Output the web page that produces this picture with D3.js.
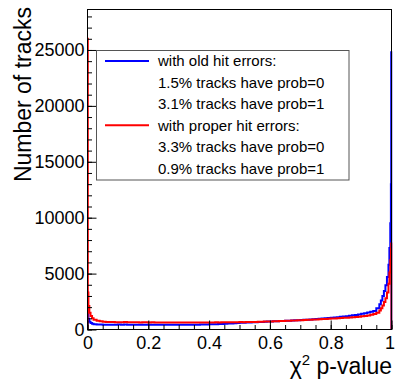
<!DOCTYPE html>
<html>
<head>
<meta charset="utf-8">
<script src="https://cdn.jsdelivr.net/npm/d3@7"></script>
<style>
  body { margin: 0; background: #fff; }
  svg { display: block; font-family: "Liberation Sans", Arial, Helvetica, sans-serif; }
</style>
</head>
<body>
<svg id="chart" width="395" height="381"></svg>
<script>
// bin edges: finer near p=0 and p=1, 0.01 in between
const lowEdges = [0, 0.001, 0.003, 0.006, 0.01, 0.015, 0.02, 0.03, 0.04, 0.05, 0.06, 0.07, 0.08, 0.09];
const midEdges = d3.range(10, 95).map(i => i / 100);
const highEdges = [0.95, 0.96, 0.965, 0.97, 0.975, 0.98, 0.985, 0.99, 0.993, 0.996, 0.998, 0.999, 1];
const binEdges = lowEdges.concat(midEdges, highEdges);

// with old hit errors (blue)
const oldErrors = [
  3300, 1700, 950, 700, 580, 520, 480, 455, 440, 432, 428, 425, 430, 424,
  440, 432, 438, 428, 434, 425, 431, 422, 429, 424,
  420, 427, 418, 424, 416, 422, 419, 425, 417, 421,
  423, 418, 426, 421, 430, 428, 436, 440, 447, 452,
  460, 468, 478, 490, 502, 515, 530, 545, 560, 578,
  595, 605, 618, 630, 642, 655, 668, 678, 692, 705,
  716, 728, 740, 752, 765, 778, 790, 805, 820, 835,
  850, 866, 882, 900, 918, 938, 958, 980, 1002, 1025,
  1050, 1075, 1102, 1130, 1160, 1192, 1228, 1265, 1305, 1350,
  1400, 1455, 1515, 1585, 1665,
  1900, 2250, 2600, 3000, 3450, 3950, 4700, 5800, 7300, 9500, 13000, 24800
];

// with proper hit errors (red)
const properErrors = [
  26000, 3300, 2100, 1500, 1200, 1000, 880, 790, 730, 700, 680, 668, 660, 655,
  655, 650, 662, 645, 648, 640, 652, 636, 644, 638,
  632, 641, 628, 636, 625, 633, 630, 622, 635, 628,
  626, 631, 620, 629, 624, 633, 627, 630, 621, 634,
  636, 629, 640, 633, 645, 638, 650, 642, 655, 648,
  660, 655, 668, 672, 680, 676, 690, 698, 705, 715,
  722, 735, 741, 756, 762, 775, 790, 798, 812, 826,
  838, 850, 862, 878, 890, 905, 918, 935, 948, 962,
  978, 992, 1008, 1025, 1040, 1060, 1082, 1100, 1125, 1150,
  1180, 1215, 1260, 1310, 1380,
  1500, 1700, 1900, 2150, 2450, 2800, 3300, 4100, 5100, 6200, 7200, 7700
];

const xMajor = [0, 0.2, 0.4, 0.6, 0.8, 1];
const xLabels = ["0", "0.2", "0.4", "0.6", "0.8", "1"];
const yMajor = [0, 5000, 10000, 15000, 20000, 25000];

const legendRows = [
  { text: "with old hit errors:", color: "#0000ff" },
  { text: "1.5% tracks have prob=0" },
  { text: "3.1% tracks have prob=1" },
  { text: "with proper hit errors:", color: "#ff0000" },
  { text: "3.3% tracks have prob=0" },
  { text: "0.9% tracks have prob=1" }
];

const svg = d3.select("#chart");
const frameL = 87.5, frameR = 391.5, frameT = 9.5, frameB = 329.5;

const x = d3.scaleLinear().domain([0, 1]).range([frameL, frameR]);
const y = d3.scaleLinear().domain([0, 28620]).range([frameB, frameT]);

svg.append("clipPath").attr("id", "frame-clip")
  .append("rect")
  .attr("x", frameL).attr("y", frameT)
  .attr("width", frameR - frameL + 1).attr("height", frameB - frameT);

function stepPath(vals) {
  const p = d3.path();
  p.moveTo(x(binEdges[0]), y(0));
  vals.forEach((v, i) => {
    p.lineTo(x(binEdges[i]), y(v));
    p.lineTo(x(binEdges[i + 1]), y(v));
  });
  p.lineTo(x(binEdges[binEdges.length - 1]), y(0));
  return p.toString();
}

const plot = svg.append("g").attr("clip-path", "url(#frame-clip)");
plot.append("path")
  .attr("d", stepPath(oldErrors))
  .attr("fill", "none").attr("stroke", "#0000ff").attr("stroke-width", 2);
plot.append("path")
  .attr("d", stepPath(properErrors))
  .attr("fill", "none").attr("stroke", "#ff0000").attr("stroke-width", 2);

// frame
svg.append("rect")
  .attr("x", frameL).attr("y", frameT)
  .attr("width", frameR - frameL).attr("height", frameB - frameT)
  .attr("fill", "none").attr("stroke", "#000").attr("stroke-width", 1);

// x axis
const xAxis = svg.append("g").attr("transform", `translate(0,${frameB})`)
  .call(d3.axisBottom(x).tickValues(xMajor).tickSize(-9).tickPadding(7)
    .tickFormat((d, i) => xLabels[i]));
xAxis.select(".domain").remove();
xAxis.selectAll("text").attr("font-size", 18).attr("fill", "#000")
  .attr("font-family", "Liberation Sans, Arial, sans-serif");
// last label sits right at the window edge
xAxis.selectAll("text").filter(d => d === 1).attr("dx", -2);

const xMinor = svg.append("g").attr("transform", `translate(0,${frameB})`)
  .call(d3.axisBottom(x).tickValues(d3.range(0, 21).map(i => i / 20)).tickSize(-4.5).tickFormat(""));
xMinor.select(".domain").remove();

// y axis
const yAxis = svg.append("g").attr("transform", `translate(${frameL},0)`)
  .call(d3.axisLeft(y).tickValues(yMajor).tickSize(-9).tickPadding(3).tickFormat(d3.format("d")));
yAxis.select(".domain").remove();
yAxis.selectAll("text").attr("font-size", 18).attr("fill", "#000")
  .attr("font-family", "Liberation Sans, Arial, sans-serif");

const yMinor = svg.append("g").attr("transform", `translate(${frameL},0)`)
  .call(d3.axisLeft(y).tickValues(d3.range(0, 29).map(i => i * 1000)).tickSize(-4.5).tickFormat(""));
yMinor.select(".domain").remove();

// axis titles
svg.append("text")
  .attr("transform", "translate(31,7) rotate(-90)")
  .attr("text-anchor", "end")
  .attr("font-size", 23)
  .text("Number of tracks");

const xt = svg.append("text")
  .attr("x", 392).attr("y", 374)
  .attr("text-anchor", "end")
  .attr("font-size", 23);
xt.append("tspan").text("χ");
xt.append("tspan").attr("font-size", 15).attr("dy", -9).text("2");
xt.append("tspan").attr("dy", 9).text(" p-value");

// legend
const legend = svg.append("g");
legend.append("rect")
  .attr("x", 96.5).attr("y", 50.5).attr("width", 252.5).attr("height", 129.5)
  .attr("fill", "#fff").attr("stroke", "#555").attr("stroke-width", 1);

legendRows.forEach((r, i) => {
  const cy = 61 + i * 21.45;
  if (r.color) {
    legend.append("line")
      .attr("x1", 105).attr("x2", 149).attr("y1", cy).attr("y2", cy)
      .attr("stroke", r.color).attr("stroke-width", 2);
  }
  legend.append("text")
    .attr("x", 158).attr("y", cy).attr("dy", "0.36em")
    .attr("font-size", 15)
    .text(r.text);
});
</script>
</body>
</html>
